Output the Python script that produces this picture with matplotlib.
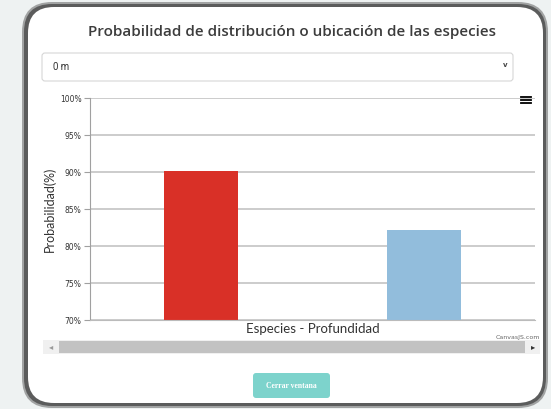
import numpy as np
import matplotlib.pyplot as plt
from matplotlib.patches import FancyBboxPatch, Rectangle

# Data
especies = ['Especie A', 'Especie B']
probabilidad = [90.1, 82.2]
colores = ['#d93027', '#92bddc']
yticks = [70, 75, 80, 85, 90, 95, 100]

W, H = 551, 409
fig = plt.figure(figsize=(W / 100, H / 100), dpi=100)
fig.patch.set_facecolor('#eef2f2')


def px(x, y):
    # pixel coords (top-left origin) -> figure fraction
    return x / W, 1 - y / H


def rbox(x0, y1, w, h, r, **kw):
    # rounded box in pixels, radius r pixels
    return FancyBboxPatch(px(x0, y1), w / W, h / H,
                          boxstyle=f'round,pad=0,rounding_size={r / W}',
                          mutation_aspect=W / H, transform=fig.transFigure, **kw)


# modal shadow + white panel
fig.patches.append(rbox(22, 408, 526, 406, 30, facecolor='#555555', edgecolor='none', alpha=0.5, zorder=0))
fig.patches.append(rbox(24, 406, 522, 402, 28, facecolor='#4a4a4a', edgecolor='none', alpha=0.8, zorder=0))
fig.patches.append(rbox(28, 403, 515, 396, 26, facecolor='white', edgecolor='none', zorder=1))

# title
fig.text(*px(292, 32), 'Probabilidad de distribución o ubicación de las especies',
         ha='center', va='center', fontsize=11, fontweight='semibold',
         family='Open Sans', color='#3c3c3c', zorder=3)

# dropdown
fig.patches.append(rbox(42, 81, 471, 28, 3, facecolor='white', edgecolor='#d6d6d6',
                        linewidth=0.8, zorder=2))
fig.text(*px(53, 67), '0 m', ha='left', va='center', fontsize=7, family='Roboto',
         color='#333333', zorder=3)
fig.text(*px(505, 65), 'v', ha='center', va='center', fontsize=5, color='#444444',
         fontweight='bold', zorder=3)

# chart axes
ax = fig.add_axes([90 / W, 1 - 320 / H, 445 / W, 222 / H])
ax.set_zorder(3)
ax.patch.set_alpha(0)
x = np.arange(len(especies))
ax.bar(x, probabilidad, width=0.333, color=colores, zorder=2)
ax.set_xlim(-0.5, 1.5)
ax.set_ylim(70, 100)
ax.set_yticks(yticks)
ax.set_yticklabels([f'{v}%' for v in yticks], fontsize=5.5, color='#333333', family='DejaVu Sans')
ax.set_xticks([])
ax.grid(axis='y', color='#c4c4c4', linewidth=1.2, zorder=1)
for s in ['top', 'right']:
    ax.spines[s].set_visible(False)
ax.spines['left'].set_color('#a0a0a0')
ax.spines['bottom'].set_color('#bbbbbb')
ax.tick_params(axis='y', length=4, color='#a0a0a0', pad=2)
ax.set_ylabel('Probabilidad(%)', fontsize=9, family='Lato', color='#333333', labelpad=3)
ax.set_xlabel('Especies - Profundidad', fontsize=9.5, family='Lato', color='#333333', labelpad=2.5)

# hamburger menu icon
for dy in (-3, 0, 3):
    fig.lines.append(plt.Line2D([px(521, 0)[0], px(531, 0)[0]], [px(0, 100 + dy)[1]] * 2,
                                transform=fig.transFigure, color='black', linewidth=1.3, zorder=4))

# CanvasJS credit
fig.text(*px(540, 337), 'CanvasJS.com', ha='right', va='center', fontsize=4.5,
         color='#666666', family='DejaVu Sans', zorder=3)

# scrollbar
fig.patches.append(Rectangle(px(43, 354), 497 / W, 14 / H, transform=fig.transFigure,
                             facecolor='#f0f0f0', edgecolor='none', zorder=2))
fig.patches.append(Rectangle(px(59, 353), 466 / W, 12 / H, transform=fig.transFigure,
                             facecolor='#c2c2c2', edgecolor='none', zorder=3))
fig.text(*px(51, 347), '\u25c2', ha='center', va='center', fontsize=6, color='#999999', zorder=4)
fig.text(*px(533, 347), '\u25b8', ha='center', va='center', fontsize=6, color='#333333', zorder=4)

# close button
fig.patches.append(rbox(253, 398, 77, 25, 3, facecolor='#7dd3cc', edgecolor='none', zorder=2))
fig.text(*px(291.5, 385.5), 'Cerrar ventana', ha='center', va='center', fontsize=5.5,
         color='white', fontweight='bold', family='Liberation Serif', zorder=3)

fig.savefig('out.png', dpi=100)
